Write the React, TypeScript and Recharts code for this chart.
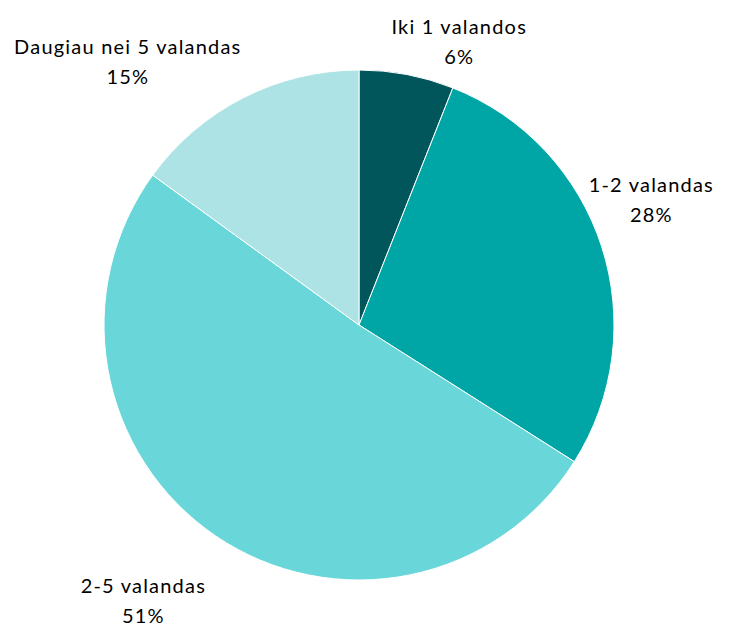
import { PieChart, Pie, Cell } from 'recharts';

const CATEGORIES = ['Iki 1 valandos', '1-2 valandas', '2-5 valandas', 'Daugiau nei 5 valandas'];
const VALUES = [6, 28, 51, 15];
const COLORS = ['#00565B', '#00A5A6', '#69D7DA', '#ADE3E5'];

// label placement: radial base + per-slice nudge (Excel-style outside-end labels)
const LABEL_RADIUS = 300;
const LABEL_NUDGE: [number, number][] = [
  [44, 12],
  [7, -32],
  [-47, 28],
  [-95, 4],
];

const data = CATEGORIES.map((name, i) => ({ name, value: VALUES[i] }));

const RAD = Math.PI / 180;

function renderLabel(props: any) {
  const { cx, cy, midAngle, index, name, value } = props;
  const [nx, ny] = LABEL_NUDGE[index];
  const x = cx + LABEL_RADIUS * Math.cos(-midAngle * RAD) + nx;
  const y = cy + LABEL_RADIUS * Math.sin(-midAngle * RAD) + ny;
  return (
    <text
      x={x}
      y={y}
      textAnchor="middle"
      fill="#000"
      fontSize={20}
      letterSpacing={1.2}
      fontFamily="Lato, 'Open Sans', sans-serif"
    >
      <tspan x={x} dy={-8}>{name}</tspan>
      <tspan x={x} dy={30}>{value}%</tspan>
    </text>
  );
}

export default function App() {
  return (
    <div style={{ position: 'absolute', left: 0, top: 0, width: 734, height: 627, background: '#fff' }}>
      <PieChart width={734} height={627}>
        <Pie
          data={data}
          dataKey="value"
          nameKey="name"
          cx={354}
          cy={320}
          outerRadius={255}
          startAngle={90}
          endAngle={-270}
          stroke="#fff"
          strokeWidth={1}
          label={renderLabel}
          labelLine={false}
          isAnimationActive={false}
        >
          {data.map((d, i) => (
            <Cell key={d.name} fill={COLORS[i]} />
          ))}
        </Pie>
      </PieChart>
    </div>
  );
}
